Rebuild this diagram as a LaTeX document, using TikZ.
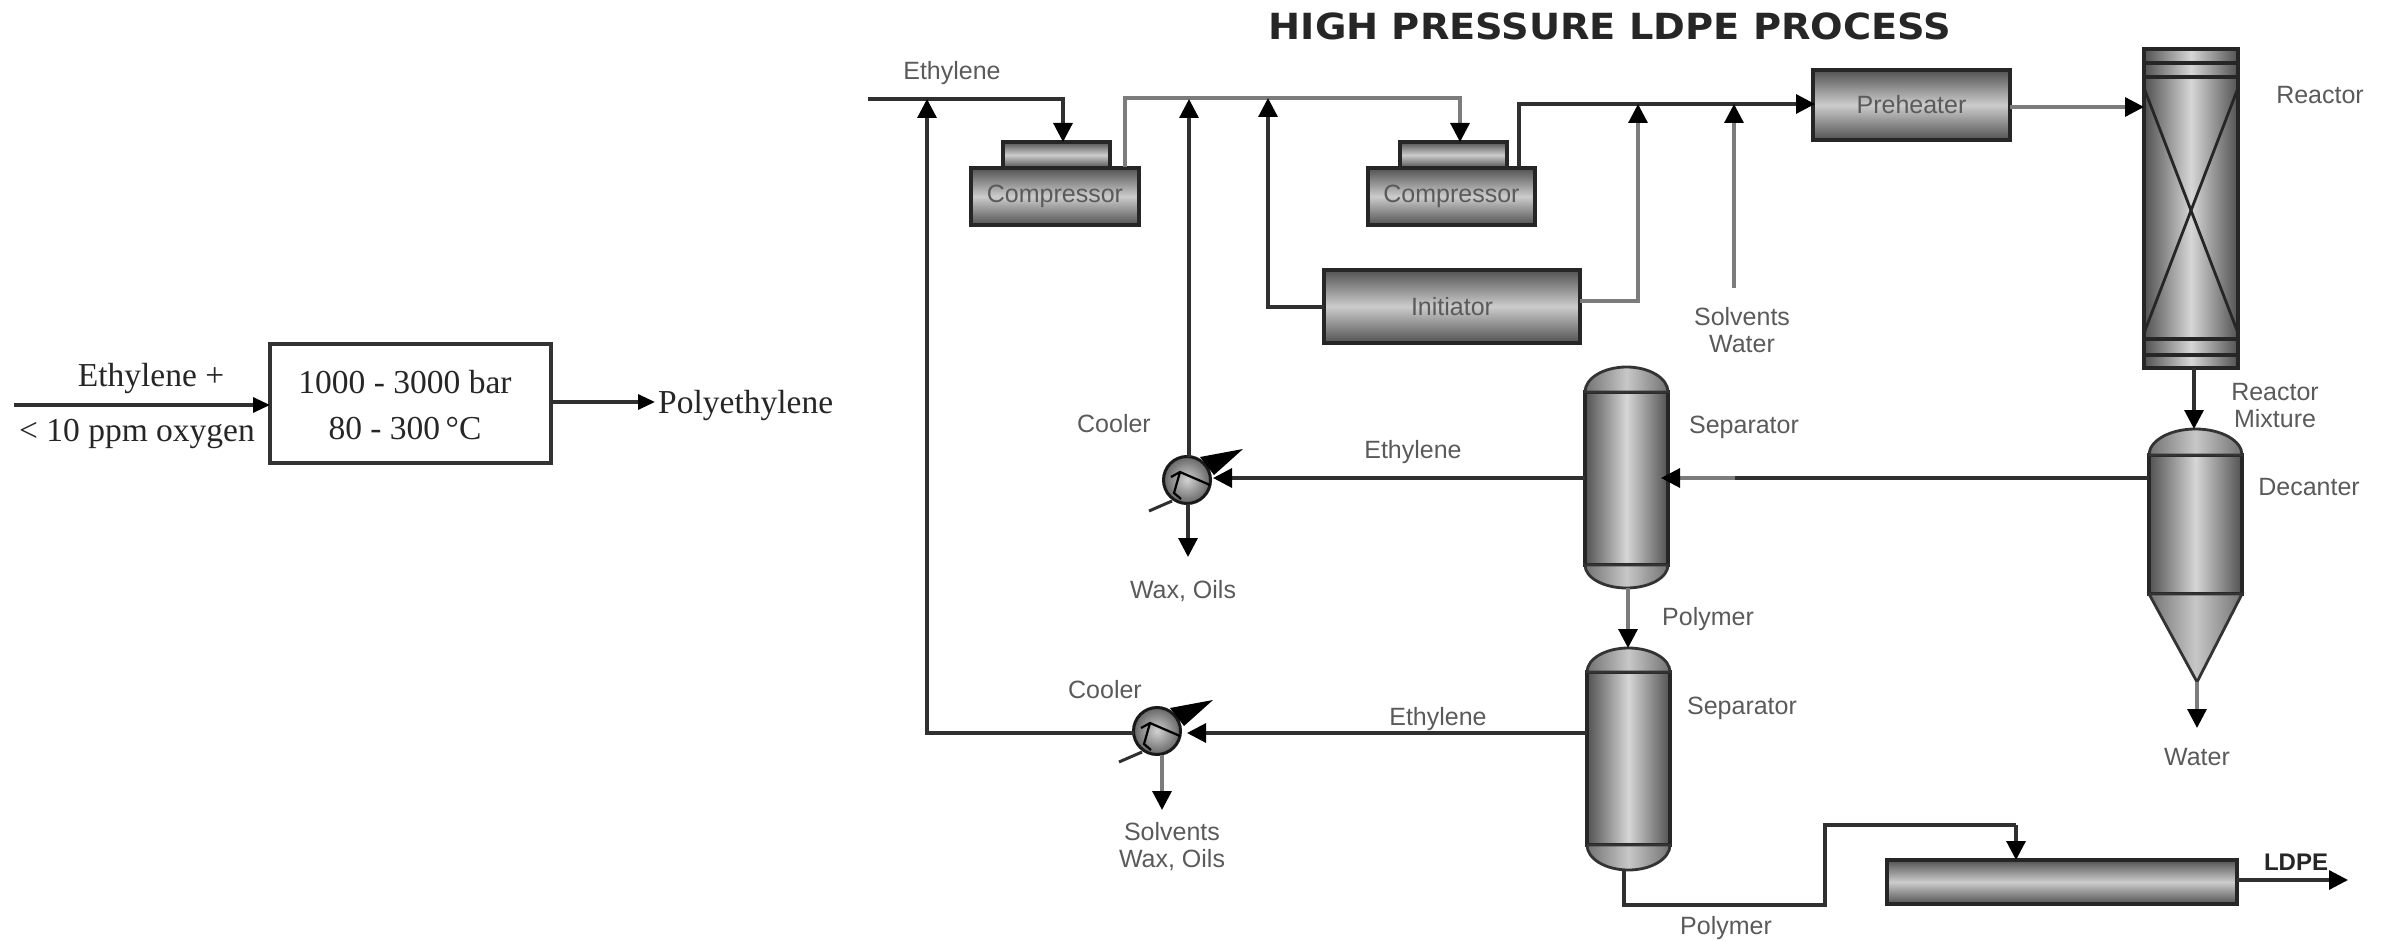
\documentclass[tikz,border=0pt]{standalone}
\usepackage{fontspec}
\setmainfont{Liberation Sans}
\newfontfamily\timesface{Liberation Serif}
\newfontfamily\titleface{DejaVu Sans}
\usetikzlibrary{arrows.meta,shapes.geometric}
\definecolor{lblgray}{HTML}{5A5A5A}
\definecolor{linedark}{HTML}{303030}
\definecolor{linepale}{HTML}{7C7C7C}
\tikzset{
  flow/.style={draw=linedark, line width=3.2pt, -{Triangle[length=19pt,width=19pt,color=black]}},
  flowpale/.style={flow, draw=linepale},
  pipe/.style={draw=linedark, line width=3.2pt},
  lbl/.style={text=lblgray, font=\fontsize{25}{27}\selectfont, align=center, inner sep=0pt},
  txt/.style={text=black!85, font=\timesface\fontsize{33.5}{46}\selectfont, align=center, inner sep=0pt},
  hvessel/.style={draw=black!85, line width=3.4pt, outer sep=0pt, inner sep=0pt, text=lblgray,
    font=\fontsize{25}{27}\selectfont, top color=black!68, bottom color=black!68, middle color=black!20},
  vvessel/.style={draw=black!85, line width=3.4pt, outer sep=0pt, inner sep=0pt,
    left color=black!68, right color=black!68, middle color=black!16},
  vcap/.style={draw=black!80, line width=2.8pt, left color=black!55, right color=black!55, middle color=black!22},
  coolball/.style={circle, draw=black!90, line width=3pt, outer sep=0pt, inner sep=0pt,
    minimum size=47pt, inner color=black!18, outer color=black!60}
}
\newcommand{\topcap}[3]{\path[vcap] (#1.north west) arc[start angle=180,end angle=0,x radius=#2,y radius=#3] -- cycle;}
\newcommand{\botcap}[3]{\path[vcap] (#1.south west) arc[start angle=180,end angle=360,x radius=#2,y radius=#3] -- cycle;}
\newcommand{\coolmarks}[1]{
  \begin{scope}[shift={(#1)}]
    \fill[black] (13,-23) -- (27,-5) -- (56,-31) -- cycle;
    \draw[linedark, line width=3pt] (-38,31) -- (-15,21);
    \draw[black, line width=2.2pt] (-16,-3) -- (-7,-8) -- (23,5);
    \draw[black, line width=2.2pt] (-7,-8) -- (-13,13) -- (-6,19);
  \end{scope}
}

\begin{document}
\begin{tikzpicture}[x=1pt, y=-1pt]
  \useasboundingbox (0,0) rectangle (2387,941);

  % overall block on the left
  \node[draw=black!80, line width=3.4pt, minimum width=281pt, minimum height=119pt, outer sep=0pt] (proc) at (410.5,403.5) {};
  \node[txt] (proctxt) at (405,405) {1000 - 3000 bar\\80 - 300\,°C};
  \node[txt] (feedtop) at (151,378) {Ethylene +};
  \node[txt] (feedbot) at (137,434) {< 10 ppm oxygen};
  \node[txt, anchor=west] (prod) at (658,405) {Polyethylene};
  \coordinate (procin) at (14,405);
  \coordinate (prodin) at (655,402);
  \draw[flow, -{Triangle[length=17pt,width=15pt,color=black]}] (procin) -- (proc.west |- procin);
  \draw[flow, -{Triangle[length=17pt,width=15pt,color=black]}] (proc.east |- prodin) -- (prodin);

  \node[font=\titleface\bfseries\fontsize{36}{38}\selectfont, text=black!85, inner sep=0pt, xscale=1.065] (title) at (1610,26) {HIGH PRESSURE LDPE PROCESS};

  % equipment
  \node[hvessel, minimum width=107pt, minimum height=26pt] (cap1) at (1056.5,155) {};
  \node[hvessel, minimum width=168pt, minimum height=57pt] (comp1) at (1055,196.5) {\raisebox{-2pt}{Compressor}};
  \node[hvessel, minimum width=107pt, minimum height=26pt] (cap2) at (1453.5,155) {};
  \node[hvessel, minimum width=167pt, minimum height=57pt] (comp2) at (1451.5,196.5) {\raisebox{-2pt}{Compressor}};
  \node[hvessel, minimum width=256pt, minimum height=73pt] (init) at (1452,306.5) {\raisebox{-3pt}{Initiator}};
  \node[hvessel, minimum width=197pt, minimum height=70pt] (preh) at (1911.5,105) {Preheater};
  \node[hvessel, minimum width=350pt, minimum height=44pt] (dryer) at (2062,882) {};

  \node[vvessel, minimum width=94pt, minimum height=319pt] (reac) at (2191,208.5) {};
  \draw[black!85, line width=3.4pt] (reac.west |- 0,63) -- (reac.east |- 0,63);
  \draw[black!85, line width=3.4pt] (reac.west |- 0,77) -- (reac.east |- 0,77);
  \draw[black!85, line width=3.4pt] (reac.west |- 0,339) -- (reac.east |- 0,339);
  \draw[black!85, line width=3.4pt] (reac.west |- 0,355) -- (reac.east |- 0,355);
  \draw[black!85, line width=2.8pt] (reac.west |- 0,88) -- (reac.east |- 0,333);
  \draw[black!85, line width=2.8pt] (reac.east |- 0,88) -- (reac.west |- 0,333);

  \node[vvessel, minimum width=93pt, minimum height=139pt] (dec) at (2195.5,524.5) {};
  \topcap{dec}{46.5pt}{26pt}
  \path[vcap] (dec.south west) -- (2197,682) -- (dec.south east) -- cycle;
  \node[vvessel, minimum width=83pt, minimum height=173pt] (sep1) at (1626.5,478.5) {};
  \topcap{sep1}{41.5pt}{25pt}
  \botcap{sep1}{41.5pt}{23pt}
  \node[vvessel, minimum width=83pt, minimum height=173pt] (sep2) at (1628.5,758.5) {};
  \topcap{sep2}{41.5pt}{24pt}
  \botcap{sep2}{41.5pt}{25pt}
  \node[coolball] (cool1) at (1187,480) {};
  \coolmarks{cool1}
  \node[coolball] (cool2) at (1157,731) {};
  \coolmarks{cool2}

  % free ends and bends of the lines
  \coordinate (feed) at (868,99);
  \coordinate (tip1) at (1063,142);
  \coordinate (out1) at (1125,167);
  \coordinate (hdr1) at (1460,98);
  \coordinate (tip2) at (1460,142);
  \coordinate (out2) at (1519,167);
  \coordinate (hdr2) at (1815,104);
  \coordinate (solv) at (1734,288);
  \coordinate (decout) at (2197,682);
  \coordinate (watertip) at (2197,728);
  \coordinate (wax1) at (1188,557);
  \coordinate (wax2) at (1162,810);
  \coordinate (ldpeout) at (2348,880);
  \coordinate (bot2) at (1624,870);
  \coordinate (riser) at (1825,825);
  \coordinate (dropin) at (2016,825);
  \coordinate (sep2in) at (1628,648);
  \coordinate (palejoin) at (1735,478);

  % lines
  \draw[flow] (feed) -| (tip1);
  \draw[flowpale] (out1) |- (hdr1) -- (tip2);
  \draw[flow] (out2) |- (hdr2);
  \draw[flow] (cool1.north -| 1189,0) -- (1189,99);
  \draw[flow] (init.west |- 0,307) -| (1268,98);
  \draw[flowpale] (init.east |- 0,301) -| (1638,104);
  \draw[flowpale] (solv) -- (1734,104);
  \draw[flowpale] (preh.east |- 0,107) -- (reac.west |- 0,107);
  \draw[flow] (2194,368) -- (2194,429);
  \draw[pipe] (dec.west |- 0,478) -- (palejoin);
  \draw[flowpale] (palejoin) -- (1661,478);
  \draw[flow] (sep1.west |- 0,478) -- (1213,478);
  \draw[flow] (cool1.south -| 1188,0) -- (wax1);
  \draw[flowpale] (decout) -- (watertip);
  \draw[flowpale] (1628,588) -- (sep2in);
  \draw[flow] (sep2.west |- 0,733) -- (1187,733);
  \draw[flow] (cool2.west |- 0,733) -| (927,99);
  \draw[flowpale] (cool2.south -| 1162,0) -- (wax2);
  \draw[pipe] (bot2) |- (riser |- 0,905) -- (riser) -- (dropin);
  \draw[flow] (dropin) -- (dropin |- dryer.north);
  \draw[flow] (dryer.east |- ldpeout) -- (ldpeout);

  % labels
  \node[lbl] (lfeed) at (952,73) {Ethylene};
  \node[lbl] (lsolv) at (1742,330) {Solvents\\Water};
  \node[lbl] (lreac) at (2320,95) {Reactor};
  \node[lbl] (lmix) at (2275,406) {Reactor\\Mixture};
  \node[lbl] (ldec) at (2309,487) {Decanter};
  \node[lbl] (lsep1) at (1744,427) {Separator};
  \node[lbl] (lcool1) at (1114,424) {Cooler};
  \node[lbl] (leth1) at (1413,452) {Ethylene};
  \node[lbl] (lwax1) at (1183,591) {Wax, Oils};
  \node[lbl] (lpoly1) at (1708,619) {Polymer};
  \node[lbl] (lsep2) at (1742,708) {Separator};
  \node[lbl] (lcool2) at (1105,690) {Cooler};
  \node[lbl] (leth2) at (1438,719) {Ethylene};
  \node[lbl] (lwax2) at (1172,847) {Solvents\\Wax, Oils};
  \node[lbl] (lwater) at (2197,757) {Water};
  \node[lbl] (lpoly2) at (1726,928) {Polymer};
  \node[lbl, text=black!85, font=\bfseries\fontsize{24}{26}\selectfont] (lldpe) at (2296,862) {LDPE};
\end{tikzpicture}
\end{document}
